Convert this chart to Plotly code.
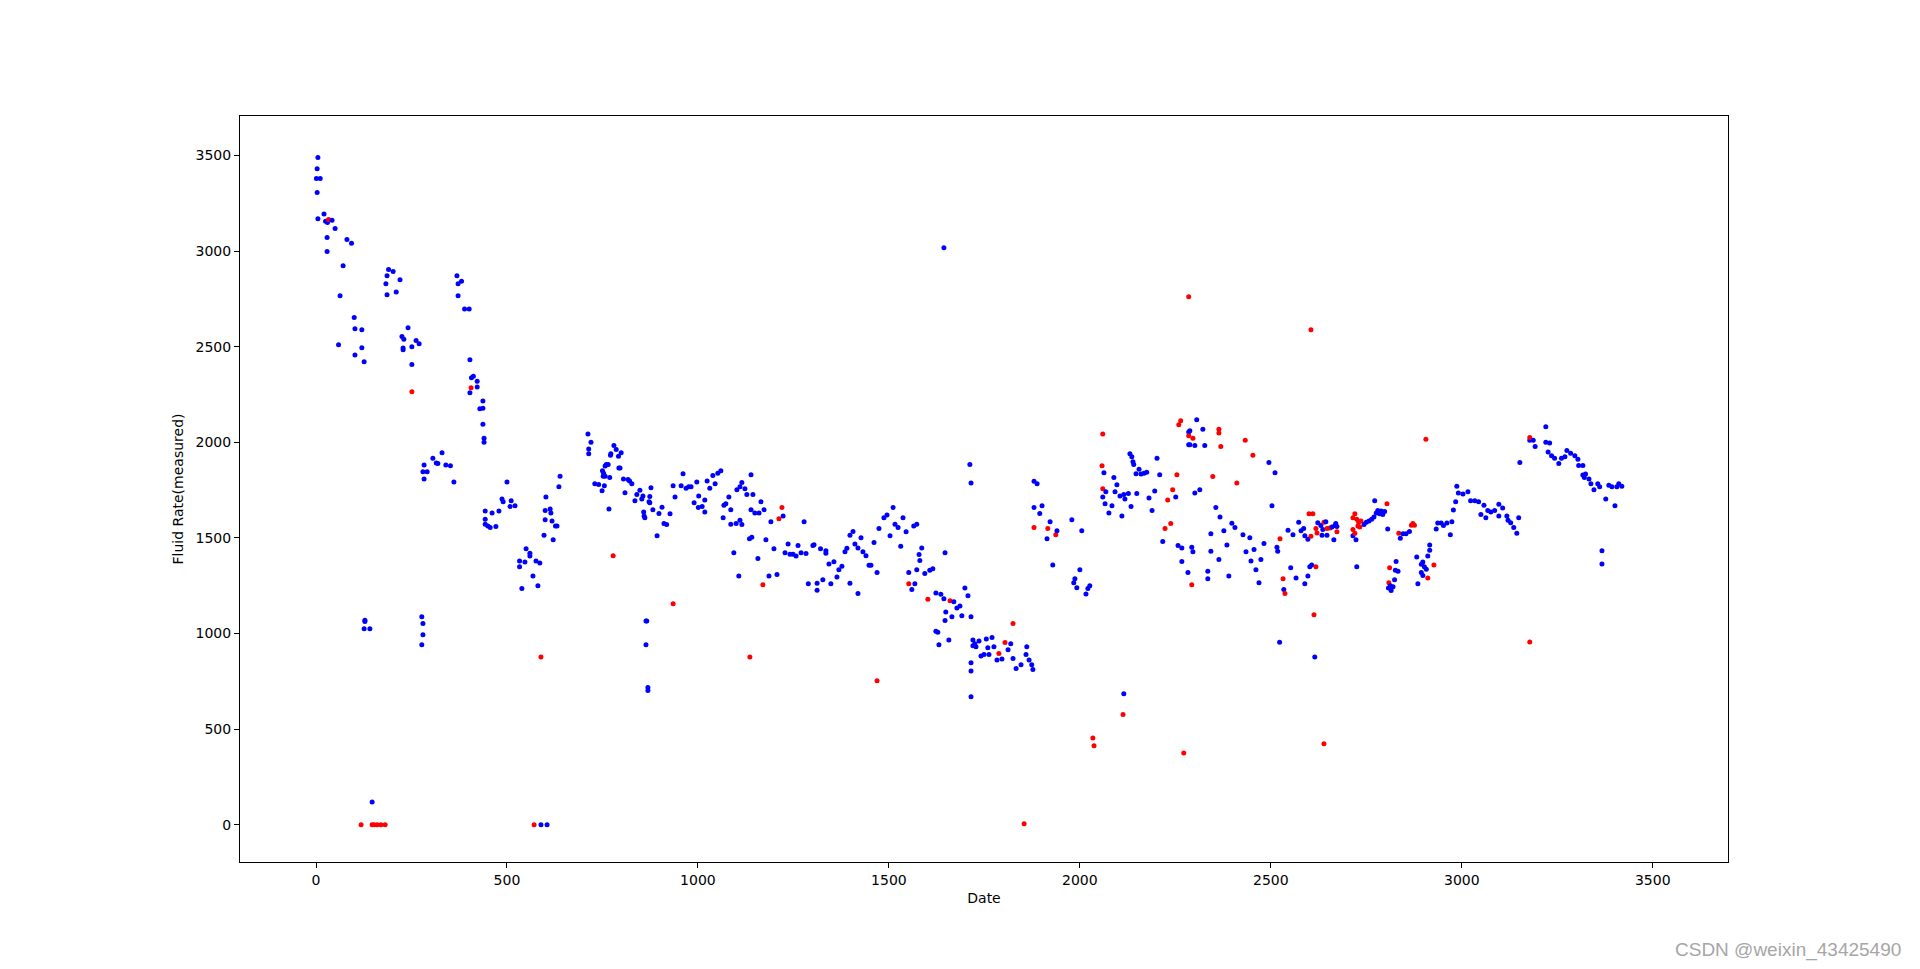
import plotly.graph_objects as go

# Normal (blue) measurements: day index and fluid rate
normal_x = [5,3,1,11,3,5,21,25,30,42,50,29,29,81,93,71,63,59,100,102,120,120,102,126,190,202,186,183,220,210,186,241,225,230,228,228,251,262,270,251,283,280,291,283,277,280,280,277,128,128,126,141,147,
369,372,381,372,389,401,403,407,412,422,403,422,437,429,437,437,440,440,306,330,315,319,340,352,361,443,461,479,487,490,500,511,508,521,443,443,450,456,471,533,533,547,550,560,560,576,586,568,581,539,602,600,613,615,600,618,627,631,597,621,636,639,589,605,712,720,714,714,780,786,792,771,772,793,757,760,765,750,753,757,752,769,730,740,749,755,767,
799,796,805,817,821,827,809,835,840,848,856,853,877,874,874,872,858,859,861,882,893,898,906,911,918,927,935,940,956,961,969,976,982,990,997,1002,1001,1011,1018,1018,1024,1031,1039,1045,1052,1060,1066,1068,1073,1081,1086,1086,1094,1100,1110,1115,1107,1102,1110,1115,1123,1128,1139,1144,1139,1149,1160,1135,1141,1157,1165,1173,1178,1186,1191,1199,1207,1223,1228,1236,1241,1249,1257,1262,1270,1283,1278,1289,864,866,864,869,869,
1301,1304,1312,1312,1321,1335,1335,1327,1343,1356,1348,1364,1369,1377,1385,1390,1398,1406,1398,1411,1419,1419,1427,1432,1440,1448,1453,1461,1469,1474,1487,1495,1503,1511,1516,1524,1531,1537,1545,1565,1573,1579,1581,1586,1552,1560,1568,1573,1594,1607,1615,1623,1636,1644,1647,1644,1649,1647,1665,1670,1678,1686,1691,1623,1628,1631,1657,1699,1707,1715,1712,1715,1720,1725,1720,1728,1736,1715,1715,1715,1755,1770,1759,1775,1741,1749,1762,1783,
1796,1812,1819,1825,1833,1846,1861,1859,1867,1874,1877,1880,1888,1880,1901,1895,1914,1922,1940,1929,1979,2005,2000,1987,1984,1992,2016,2021,2026,2063,2060,2068,2066,2076,2084,2089,2097,2092,2105,2115,2118,2127,2110,2134,2115,2131,2136,2139,2141,2147,2155,2160,2168,2175,2149,2181,2189,2196,2202,2209,2217,2251,2257,2267,2267,2283,2285,2285,
2306,2288,2288,2301,2322,2327,2301,2314,2495,2511,2356,2367,2377,2385,2343,2343,2364,2335,2335,2390,2398,2406,2427,2435,2445,2448,2456,2461,2469,2474,2482,2503,2516,2518,2293,2296,2523,2534,2545,2552,2558,2566,2573,2579,2586,2589,2597,2589,2597,2602,2607,2615,2623,2631,2636,2634,2647,2644,2660,2668,2670,2673,2665,2715,2723,2725,2744,2750,2757,2764,2770,2776,2780,2772,
2785,2789,2798,2793,2806,2828,2833,2826,2824,2808,2815,2820,2813,2839,2846,2854,2863,2882,2885,2894,2898,2902,2894,2898,2907,2911,2916,2916,2933,2937,2946,2952,2961,2970,2974,2978,2984,2987,2991,3003,3016,3023,3034,3044,3050,3063,3058,3068,3076,3086,3097,3107,3097,3118,3121,3128,3136,3144,3149,3152,3178,3187,3192,3220,3220,3230,3226,3235,3243,3254,3261,3270,3275,
3285,3296,3304,3306,3317,3317,3324,3321,3333,3338,3346,3356,3361,3377,3367,3367,3385,3393,3406,3411,3419,3401]
normal_y = [3490,3431,3380,3380,3307,3170,3195,3157,3150,3162,3119,3071,2998,3061,3041,2924,2767,2511,2653,2594,2589,2495,2457,2422,2904,2894,2871,2830,2850,2787,2772,2599,2554,2539,2493,2485,2500,2533,2516,2407,1882,1846,1846,1808,1088,1052,994,941,1070,1063,1025,1025,119,
2871,2830,2843,2767,2698,2698,2432,2338,2346,2320,2260,2290,2216,2176,2178,2095,2021,2001,1917,1945,1892,1889,1882,1877,1793,1641,1631,1641,1704,1689,1793,1694,1664,1669,1598,1572,1562,1555,1560,1380,1349,1374,1443,1420,1405,1380,1369,1301,1250,1235,1714,1643,1651,1631,1595,1588,1562,1562,1514,1491,1768,1823,0,0,2044,2001,1965,1940,1983,1963,1927,1932,1940,1866,1876,1884,1884,1851,1839,1823,1823,1816,1783,1780,1747,1773,1651,
1945,1866,1808,1806,1798,1783,1737,1694,1727,1750,1719,1704,1763,1717,1684,1689,1636,1615,1605,1648,1511,1628,1661,1575,1570,1626,1773,1714,1773,1836,1760,1768,1768,1684,1793,1719,1659,1664,1699,1636,1798,1760,1826,1783,1839,1851,1605,1671,1679,1714,1648,1572,1423,1575,1593,1570,1301,1752,1768,1790,1757,1727,1831,1727,1648,1631,1631,1496,1504,1392,1689,1648,1491,1301,1585,1443,1309,1615,1423,1468,1415,1415,1405,1461,1423,1418,1585,1260,1065,1065,941,718,702,
1461,1464,1263,1227,1443,1433,1420,1281,1364,1375,1260,1296,1334,1352,1428,1446,1514,1534,1263,1468,1448,1210,1501,1428,1407,1357,1357,1476,1319,1549,1605,1620,1511,1659,1572,1555,1456,1605,1532,1562,1572,1413,1382,1448,1319,1230,1260,1334,1314,1331,1339,1212,1205,1182,1423,3018,1113,1068,1088,1166,1134,1144,1093,1012,1007,941,966,1238,1197,1088,1884,1788,966,946,936,931,961,847,804,670,971,979,926,931,883,890,890,862,
867,915,946,870,817,837,931,890,862,837,812,1796,1783,1659,1669,1628,1496,1585,1537,1359,1595,1537,1334,1286,1265,1240,1207,1235,1250,1841,1714,1742,1679,1631,1669,1816,1778,1742,1719,1727,1704,1732,1615,1664,685,1940,1925,1899,1884,1836,1859,1834,1839,1844,1732,1709,1643,1745,1917,1831,1481,1714,1461,1448,1377,1319,1988,2054,
2118,2061,1988,1983,2069,1983,1735,1752,1894,1841,1659,1610,1537,1463,1522,1430,1387,1326,1286,1301,1577,1555,1517,1428,1501,1380,1440,1334,1265,1387,1471,1669,1451,1430,1451,1428,955,1230,1540,1344,1517,1291,1582,1537,1549,1511,1493,1260,1301,1349,1359,877,1580,1565,1544,1514,1514,1585,1557,1565,1575,1560,1491,1511,1491,1349,1570,1582,1588,1598,1610,1631,1643,1694,
1626,1641,1638,1623,1547,1377,1326,1331,1281,1238,1225,1245,1250,1499,1522,1522,1534,1400,1260,1362,1374,1349,1319,1303,1336,1405,1435,1463,1547,1578,1578,1565,1578,1517,1585,1646,1689,1770,1735,1730,1742,1694,1694,1689,1623,1605,1671,1643,1636,1643,1676,1656,1615,1615,1593,1580,1555,1524,1605,1894,2011,2011,1978,2082,2001,1996,1950,1930,1917,1889,1917,1925,1958,
1943,1930,1912,1879,1879,1829,1834,1816,1808,1783,1752,1783,1768,1704,1433,1364,1775,1768,1768,1783,1770,1669]

# Flagged (red) measurements
flag_x = [33,251,118,147,152,160,170,181,406,589,571,778,935,1136,1170,1212,1220,1469,1552,1602,1660,1788,1804,1825,1854,1880,1916,1937,2034,2037,2060,2058,2060,2113,2223,2230,2238,2243,2254,2259,2264,2285,2285,2272,2296,2364,2364,2369,2433,2453,2348,2411,2293,2524,2532,2537,2600,2610,2605,2613,2618,2605,2639,2618,2621,2639,2647,2655,2673,2715,2720,2715,2725,2720,2730,2736,2728,2733,2804,2811,2809,2835,2868,2876,2872,2911,2927,2906,3178,3178]
flag_y = [3165,2265,0,0,0,0,0,0,2285,877,0,1407,1156,877,1255,1600,1659,753,1260,1179,1172,895,953,1052,5,1555,1549,1517,454,413,2044,1877,1757,576,1549,1699,1575,1752,1831,2092,2113,2034,2762,375,2021,2069,2049,1978,2011,1932,1821,1788,1255,1496,1286,1210,1626,1626,1509,1098,1349,2589,424,1549,1526,1582,1549,1552,1532,1544,1626,1605,1598,1524,1582,1588,1562,1557,1679,1344,1265,1524,1567,1567,1575,1291,1359,2016,2026,956]

x_ticks = [0, 500, 1000, 1500, 2000, 2500, 3000, 3500]
y_ticks = [0, 500, 1000, 1500, 2000, 2500, 3000, 3500]

# combine in date order, as a single scatter with per-point colours
pts = [(x, y, "#0000ff") for x, y in zip(normal_x, normal_y)] + \
      [(x, y, "#ff0000") for x, y in zip(flag_x, flag_y)]
pts.sort(key=lambda p: p[0])

fig = go.Figure(go.Scatter(
    x=[p[0] for p in pts], y=[p[1] for p in pts], mode="markers",
    marker=dict(color=[p[2] for p in pts], size=5, line=dict(width=0)),
    hoverinfo="x+y", showlegend=False))

font = dict(family="DejaVu Sans", size=14, color="black")
axis_common = dict(showgrid=False, zeroline=False, showline=True, mirror=True,
                   linecolor="black", linewidth=1, ticks="outside", ticklen=5,
                   tickwidth=1, tickcolor="black", tickfont=font)
fig.update_layout(
    width=1920, height=969,
    margin=dict(l=240, r=192, t=116, b=107, autoexpand=False),
    paper_bgcolor="white", plot_bgcolor="white", font=font,
    xaxis=dict(range=[-199, 3697], tickvals=x_ticks, ticktext=[str(v) for v in x_ticks],
               title=dict(text="Date", font=font, standoff=6), **axis_common),
    yaxis=dict(range=[-195, 3707], tickvals=y_ticks, ticktext=[str(v) for v in y_ticks],
               title=dict(text="Fluid Rate(measured)", font=font, standoff=8), **axis_common),
    annotations=[dict(text="CSDN @weixin_43425490", xref="paper", yref="paper",
                      x=(1903 - 240) / 1488, y=-(950 - 862) / 746, xanchor="right",
                      yanchor="middle", showarrow=False,
                      font=dict(family="Liberation Sans", size=19, color="#a6a6a6"))],
)
fig.write_html("out.html")
